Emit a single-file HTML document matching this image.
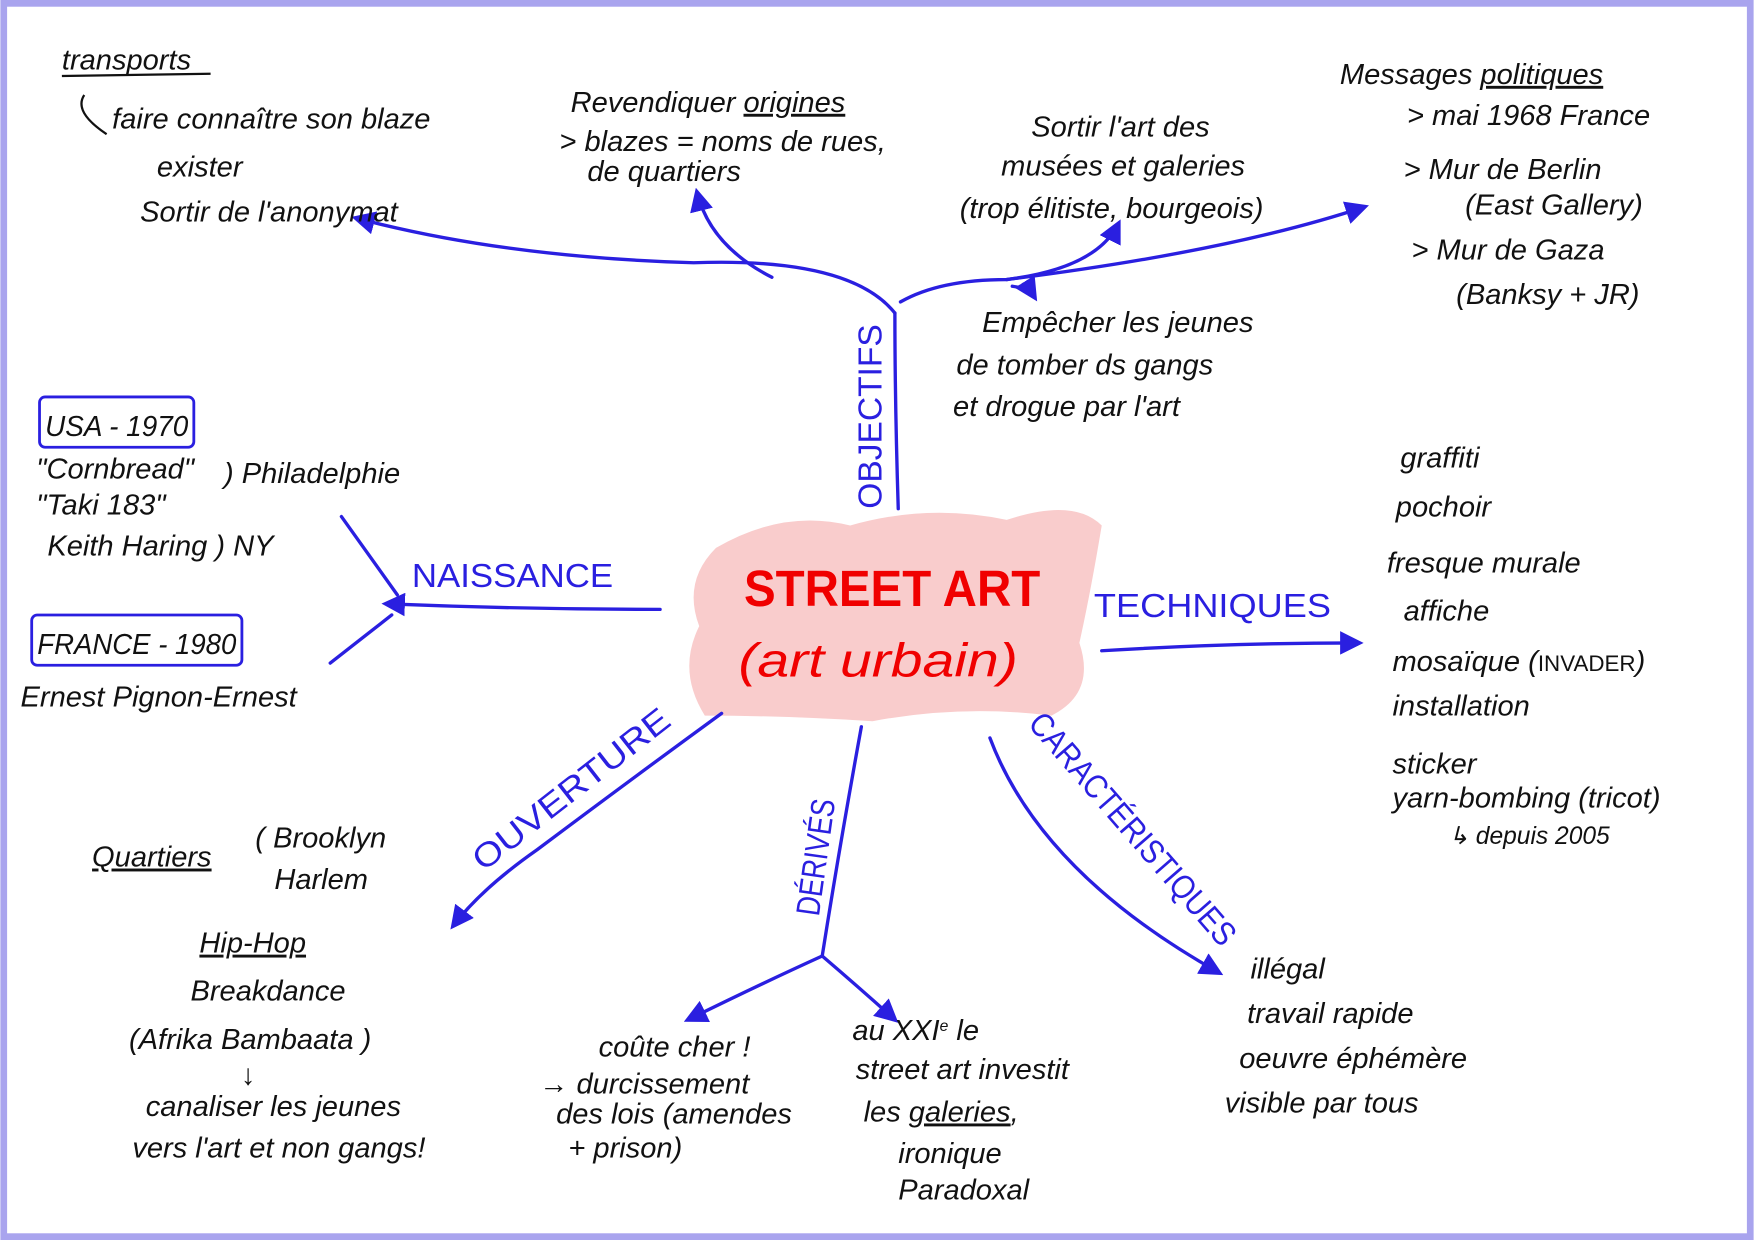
<!DOCTYPE html>
<html><head><meta charset="utf-8"><style>
html,body{margin:0;padding:0;background:#fff;}
svg{display:block;}
text{font-family:"Liberation Sans",sans-serif;}
.k{fill:#111;font-size:26px;font-style:italic;}
.b{fill:#2a1fe0;font-size:30px;}
.ln{stroke:#2a1fe0;stroke-width:3;fill:none;stroke-linecap:round;}
.kl{stroke:#111;stroke-width:2;fill:none;}
</style></head><body>
<svg width="1754" height="1240" viewBox="0 0 1568 1109" xmlns="http://www.w3.org/2000/svg">
<defs><marker id="a" viewBox="0 0 10 10" refX="8" refY="5" markerWidth="7" markerHeight="7" orient="auto-start-reverse"><path d="M0,0 L10,5 L0,10 z" fill="#2a1fe0"/></marker></defs>
<rect x="3" y="3" width="1562" height="1103" fill="#fff" stroke="#a9a4ee" stroke-width="6"/>
<!-- center blob -->
<path d="M640,490 Q700,455 760,470 Q830,450 900,465 Q960,445 985,470 Q975,530 965,575 Q980,620 940,640 Q860,630 780,645 Q700,640 630,640 Q605,600 625,560 Q610,520 640,490 Z" fill="#f9cccc"/>
<text x="665" y="542" fill="#f00000" font-size="46" font-weight="bold" textLength="265" lengthAdjust="spacingAndGlyphs">STREET ART</text>
<text x="660" y="605" fill="#f00000" font-size="42" font-style="italic" textLength="250" lengthAdjust="spacingAndGlyphs">(art urbain)</text>
<!-- objectifs -->
<path class="ln" d="M803,455 Q800,360 800,280"/>
<text class="b" transform="translate(788,455) rotate(-90)" font-size="28" textLength="165" lengthAdjust="spacingAndGlyphs">OBJECTIFS</text>
<path class="ln" d="M800,280 Q760,230 620,235 Q450,230 318,195" marker-end="url(#a)"/>
<path class="ln" d="M690,248 Q635,220 623,172" marker-end="url(#a)"/>
<path class="ln" d="M805,270 Q840,250 900,250 Q980,240 1000,200" marker-end="url(#a)"/>
<path class="ln" d="M900,250 Q1100,225 1220,185" marker-end="url(#a)"/>
<path class="ln" d="M905,256 Q920,258 925,266" marker-end="url(#a)"/>
<!-- naissance -->
<path class="ln" d="M590,545 Q470,545 345,540" marker-end="url(#a)"/>
<text class="b" x="368" y="525" textLength="180" lengthAdjust="spacingAndGlyphs">NAISSANCE</text>
<path class="ln" d="M305,462 L355,532"/>
<path class="ln" d="M295,593 L350,550"/>
<!-- techniques -->
<path class="ln" d="M985,582 Q1100,575 1215,575" marker-end="url(#a)"/>
<text class="b" x="978" y="552" textLength="212" lengthAdjust="spacingAndGlyphs">TECHNIQUES</text>
<!-- ouverture -->
<path class="ln" d="M645,638 Q560,700 480,760 Q430,795 405,828" marker-end="url(#a)"/>
<text class="b" transform="translate(432,780) rotate(-38)" textLength="215" lengthAdjust="spacingAndGlyphs">OUVERTURE</text>
<!-- derives -->
<path class="ln" d="M770,650 Q750,760 735,855"/>
<path class="ln" d="M735,855 Q680,880 615,912" marker-end="url(#a)"/>
<path class="ln" d="M735,855 Q770,885 800,912" marker-end="url(#a)"/>
<text class="b" transform="translate(732,820) rotate(-82)" font-size="24" textLength="105" lengthAdjust="spacingAndGlyphs">DÉRIVÉS</text>
<!-- caracteristiques -->
<path class="ln" d="M885,660 Q930,780 1090,870" marker-end="url(#a)"/>
<text class="b" transform="translate(918,648) rotate(49)" font-size="28" textLength="265" lengthAdjust="spacingAndGlyphs">CARACTÉRISTIQUES</text>
<!-- top-left -->
<text class="k" x="55" y="62" font-size="20">transports</text>
<line class="kl" x1="55" y1="68" x2="188" y2="66"/>
<text class="k" x="100" y="115">faire connaître son blaze</text>
<text class="k" x="140" y="158">exister</text>
<text class="k" x="125" y="198">Sortir de l'anonymat</text>
<path class="kl" d="M75,85 Q65,100 95,120"/>
<!-- top middle -->
<text class="k" x="510" y="100">Revendiquer <tspan text-decoration="underline">origines</tspan></text>
<text class="k" x="500" y="135">&gt; blazes = noms de rues,</text>
<text class="k" x="525" y="162">de quartiers</text>
<text class="k" x="922" y="122">Sortir l'art des</text>
<text class="k" x="895" y="157">musées et galeries</text>
<text class="k" x="858" y="195">(trop élitiste, bourgeois)</text>
<text class="k" x="878" y="297" font-size="24">Empêcher les jeunes</text>
<text class="k" x="855" y="335" font-size="24">de tomber ds gangs</text>
<text class="k" x="852" y="372" font-size="24">et drogue par l'art</text>
<!-- top right -->
<text class="k" x="1198" y="75" font-size="28">Messages <tspan text-decoration="underline">politiques</tspan></text>
<text class="k" x="1258" y="112">&gt; mai 1968 France</text>
<text class="k" x="1255" y="160">&gt; Mur de Berlin</text>
<text class="k" x="1310" y="192">(East Gallery)</text>
<text class="k" x="1262" y="232">&gt; Mur de Gaza</text>
<text class="k" x="1302" y="272">(Banksy + JR)</text>
<!-- left -->
<rect x="35" y="355" width="138" height="45" rx="5" fill="none" stroke="#2a1fe0" stroke-width="2.5"/>
<text class="k" x="40" y="390" font-style="normal" font-size="24" textLength="128" lengthAdjust="spacingAndGlyphs">USA - 1970</text>
<text class="k" x="32" y="428" font-size="24">"Cornbread"</text>
<text class="k" x="32" y="460" font-size="24">"Taki 183"</text>
<text class="k" x="200" y="432" font-size="24">) Philadelphie</text>
<text class="k" x="42" y="497" font-size="24">Keith Haring ) NY</text>
<rect x="28" y="550" width="188" height="45" rx="5" fill="none" stroke="#2a1fe0" stroke-width="2.5"/>
<text class="k" x="33" y="585" font-style="normal" font-size="24" textLength="178" lengthAdjust="spacingAndGlyphs">FRANCE - 1980</text>
<text class="k" x="18" y="632" font-size="26">Ernest Pignon-Ernest</text>
<!-- right techniques -->
<g class="k">
<text x="1252" y="418">graffiti</text>
<text x="1248" y="462">pochoir</text>
<text x="1240" y="512">fresque murale</text>
<text x="1255" y="555">affiche</text>
<text x="1245" y="600">mosaïque (<tspan font-size="20" font-style="normal">INVADER</tspan>)</text>
<text x="1245" y="640">installation</text>
<text x="1245" y="692">sticker</text>
<text x="1245" y="722">yarn-bombing (tricot)</text>
<text x="1295" y="755" font-size="22">↳ depuis 2005</text>
</g>
<!-- bottom left -->
<text class="k" x="82" y="775" text-decoration="underline">Quartiers</text>
<text class="k" x="228" y="758" font-size="24">( Brooklyn</text>
<text class="k" x="245" y="795" font-size="24">Harlem</text>
<text class="k" x="178" y="852" text-decoration="underline">Hip-Hop</text>
<text class="k" x="170" y="895">Breakdance</text>
<text class="k" x="115" y="938">(Afrika Bambaata )</text>
<text class="k" x="215" y="970" font-size="22">↓</text>
<text class="k" x="130" y="998">canaliser les jeunes</text>
<text class="k" x="118" y="1035">vers l'art et non gangs!</text>
<!-- bottom middle -->
<text class="k" x="535" y="945">coûte cher !</text>
<text class="k" x="482" y="978" font-size="24">→ durcissement</text>
<text class="k" x="497" y="1005" font-size="24">des lois (amendes</text>
<text class="k" x="508" y="1035" font-size="24">+ prison)</text>
<text class="k" x="762" y="930" font-size="24">au XXI<tspan font-size="14" dy="-8">e</tspan><tspan dy="8"> le</tspan></text>
<text class="k" x="765" y="965" font-size="24">street art investit</text>
<text class="k" x="772" y="1003" font-size="24">les <tspan text-decoration="underline">galeries</tspan>,</text>
<text class="k" x="803" y="1040" font-size="24">ironique</text>
<text class="k" x="803" y="1073" font-size="24">Paradoxal</text>
<!-- bottom right -->
<text class="k" x="1118" y="875">illégal</text>
<text class="k" x="1115" y="915">travail rapide</text>
<text class="k" x="1108" y="955">oeuvre éphémère</text>
<text class="k" x="1095" y="995">visible par tous</text>
</svg>
</body></html>
